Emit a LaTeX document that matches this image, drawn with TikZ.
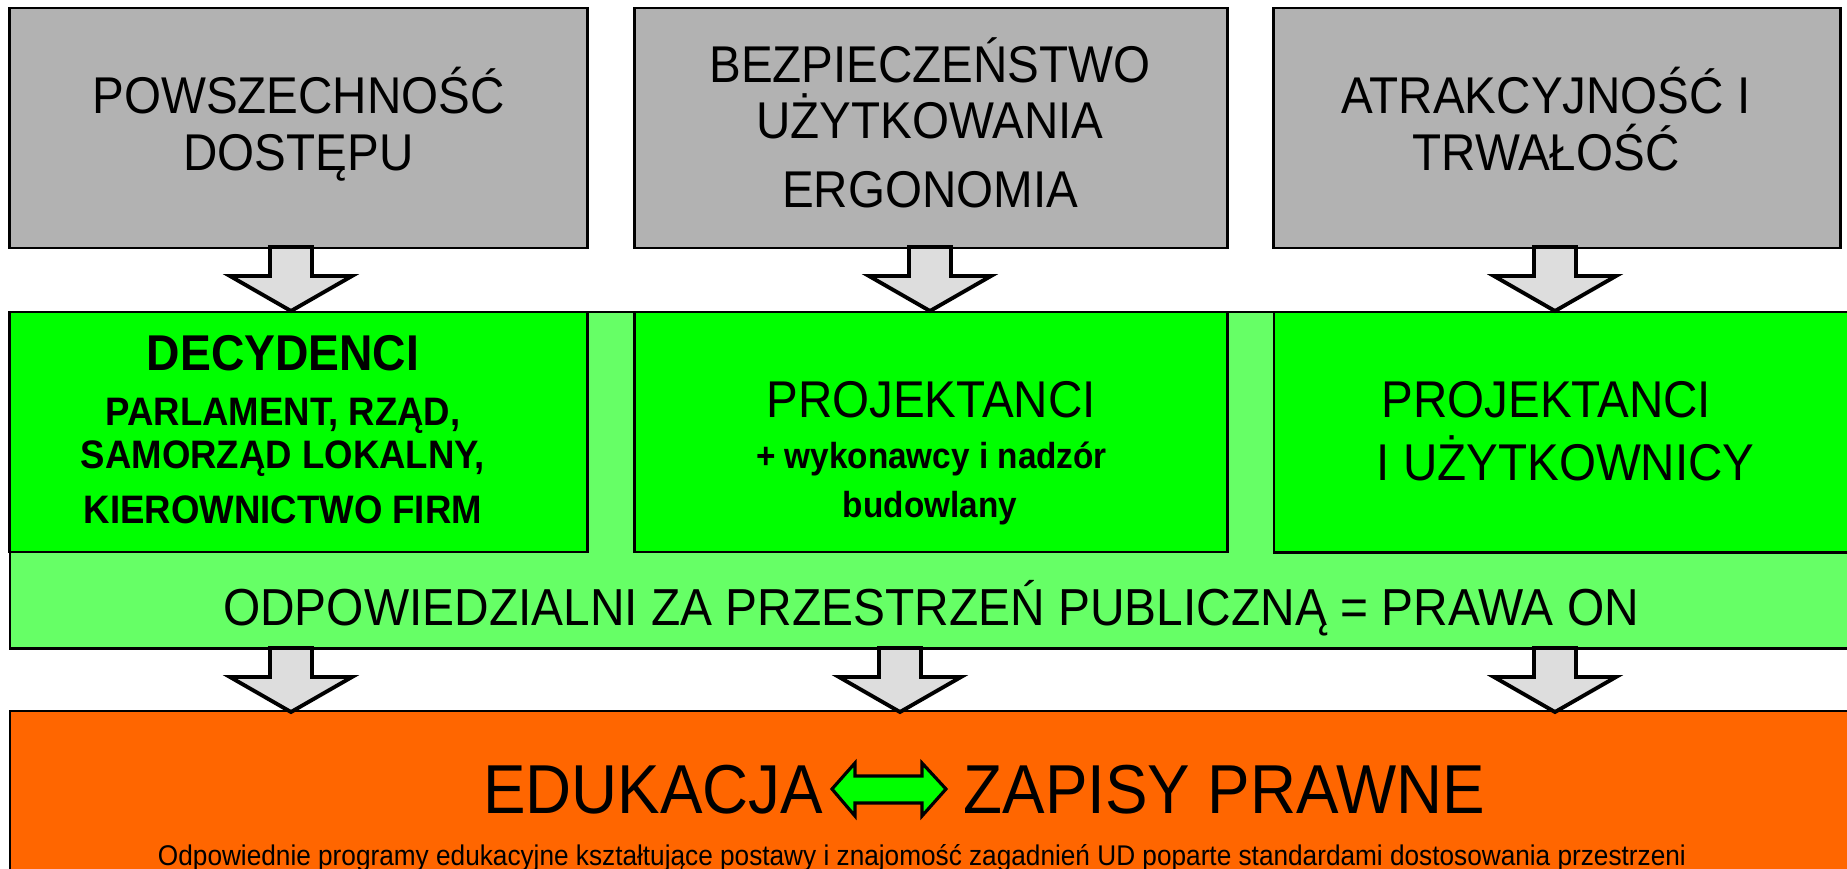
\documentclass[tikz,border=0pt]{standalone}
\usepackage{fontspec}
\setmainfont{Liberation Sans}[FakeStretch=0.92]

\definecolor{boxgray}{HTML}{B2B2B2}
\definecolor{arrowgray}{HTML}{DDDDDD}
\definecolor{actgreen}{HTML}{00FF00}
\definecolor{paleband}{HTML}{66FF66}
\definecolor{eduorange}{HTML}{FF6600}

\tikzset{
  box/.style={draw=black, line width=0.8pt, inner sep=0pt, outer sep=0pt},
  greybox/.style={box, fill=boxgray, minimum height=2.4cm},
  greenbox/.style={box, fill=actgreen, minimum height=2.4cm},
  txt/.style={inner sep=0pt, anchor=base},
  bigtxt/.style={txt, font=\fontsize{14.7}{16}\selectfont},
  headtxt/.style={txt, font=\fontsize{14.3}{16}\selectfont\bfseries},
  smalltxt/.style={txt, font=\fontsize{11.3}{13}\selectfont\bfseries},
  downarrow/.pic={
    \draw[fill=arrowgray, line width=1.1pt]
      (-21,0) -- (21,0) -- (21,29) -- (61,29) -- (0,64) -- (-61,29) -- (-21,29) -- cycle;
  },
  twoway/.pic={
    \draw[fill=actgreen, line width=0.9pt]
      (-57,0) -- (-34,-26) -- (-34,-13) -- (33,-13) -- (33,-26) -- (57,0)
      -- (33,27) -- (33,14) -- (-34,14) -- (-34,27) -- cycle;
  },
}

\begin{document}
\begin{tikzpicture}[x=0.01cm, y=-0.01cm]
  \useasboundingbox (0,0) rectangle (1847,869);
  \clip (0,0) rectangle (1847,869);

  % principles
  \node[greybox, minimum width=5.77cm] (acc) at (298.5,128) {};
  \node[greybox, minimum width=5.92cm] (safe) at (931,128) {};
  \node[greybox, minimum width=5.66cm] (dur) at (1557,128) {};
  \foreach \y/\t [count=\i] in {113/POWSZECHNOŚĆ, 170/DOSTĘPU}
    \node[bigtxt] (acc\i) at (298.5,\y) {\t};
  \foreach \y/\t [count=\i] in {82/BEZPIECZEŃSTWO, 138/UŻYTKOWANIA, 207/ERGONOMIA}
    \node[bigtxt] (safe\i) at (930,\y) {\t};
  \foreach \y/\t [count=\i] in {113/ATRAKCYJNOŚĆ I, 170/TRWAŁOŚĆ}
    \node[bigtxt] (dur\i) at (1546,\y) {\t};

  % responsible people
  \node[box, fill=paleband, anchor=north west, minimum width=19cm, minimum height=3.36cm] (resp) at (10,312) {};
  \node[greenbox, minimum width=5.77cm] (dec) at (298.5,432) {};
  \node[greenbox, minimum width=5.92cm] (proj) at (931,432) {};
  \node[greenbox, anchor=north west, minimum width=6.5cm] (users) at (1274,312) {};

  \node[headtxt] (dec1) at (283,370) {DECYDENCI};
  \foreach \y/\t [count=\i] in {425/{PARLAMENT, RZĄD,}, 468/{SAMORZĄD LOKALNY,}, 523/{KIEROWNICTWO FIRM}}
    \node[smalltxt] (decs\i) at (283,\y) {\t};
  \node[bigtxt] (proj1) at (931,417) {PROJEKTANCI};
  \node[txt, font=\fontsize{10.3}{12}\selectfont\bfseries] (proj2) at (931.5,468) {+ wykonawcy i nadzór};
  \node[txt, font=\fontsize{10.3}{12}\selectfont\bfseries] (proj3) at (930,517) {budowlany};
  \node[bigtxt, anchor=base west] (users1) at (1381,417) {PROJEKTANCI};
  \node[bigtxt, anchor=base west] (users2) at (1376,480) {I UŻYTKOWNICY};
  \node[txt, font=\fontsize{14.8}{16}\selectfont] (resp1) at (931,625) {ODPOWIEDZIALNI ZA PRZESTRZEŃ PUBLICZNĄ = PRAWA ON};

  % education and law
  \node[box, fill=eduorange, anchor=north west, minimum width=19cm, minimum height=3cm] (edu) at (10,711) {};
  \node[txt, font=\fontsize{19.7}{22}\selectfont] (edu1) at (653,813) {EDUKACJA};
  \node[txt, font=\fontsize{19.7}{22}\selectfont] (law1) at (1224.5,813) {ZAPISY PRAWNE};
  \pic at (889,789) {twoway};
  \node[txt, font=\fontsize{8.1}{10}\selectfont] (edu2) at (922,865)
    {Odpowiednie programy edukacyjne kształtujące postawy i znajomość zagadnień UD poparte standardami dostosowania przestrzeni};

  % block arrows
  \foreach \x in {291,930,1555}
    \pic at (\x,247) {downarrow};
  \foreach \x in {291,900,1555}
    \pic at (\x,648) {downarrow};
\end{tikzpicture}
\end{document}
